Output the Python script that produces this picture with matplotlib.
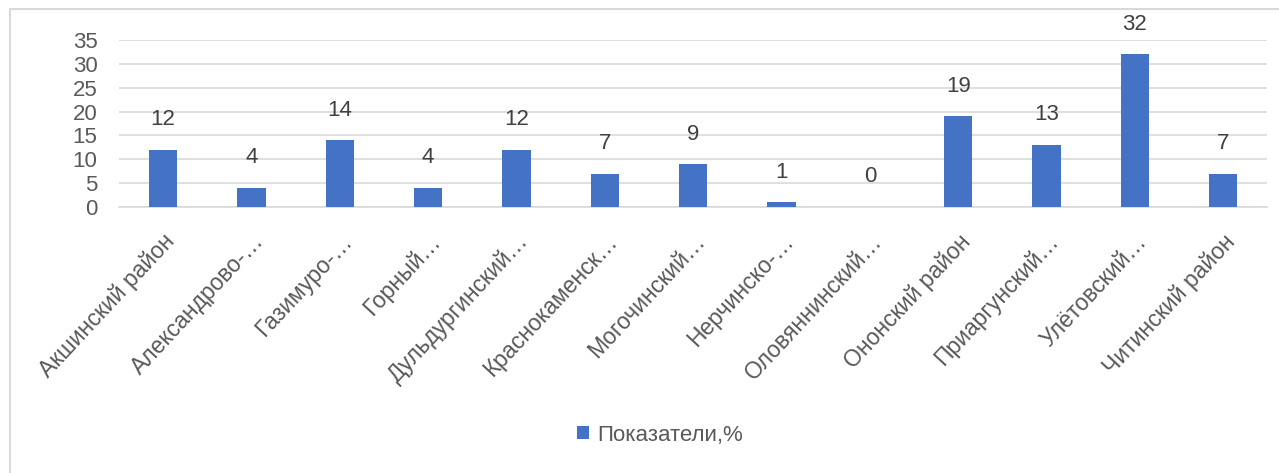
import matplotlib
matplotlib.use("Agg")
import matplotlib.pyplot as plt
from matplotlib.patches import Rectangle
from matplotlib.transforms import ScaledTranslation

categories = ["Акшинский район", "Александрово-…", "Газимуро-…", "Горный…",
              "Дульдургинский…", "Краснокаменск…", "Могочинский…", "Нерчинско-…",
              "Оловяннинский…", "Ононский район", "Приаргунский…", "Улётовский…",
              "Читинский район"]
values = [12, 4, 14, 4, 12, 7, 9, 1, 0, 19, 13, 32, 7]
series_name = "Показатели,%"
yticks = [0, 5, 10, 15, 20, 25, 30, 35]

plt.rcParams['font.family'] = ['Liberation Sans', 'DejaVu Sans']
bar_color = "#4472C4"
text_color = "#595959"

fig = plt.figure(figsize=(12.79, 4.73), dpi=100)
ax = fig.add_axes([0.093, 0.5624, 0.898, 0.353])

x = list(range(len(categories)))
bars = ax.bar(x, values, width=0.32, color=bar_color, label=series_name, zorder=3)
for xi, v in zip(x, values):
    ax.annotate(str(v), (xi, v), xytext=(0, 21.6), textcoords="offset points",
                ha="center", va="center", fontsize=16, color="#404040")

ax.set_xlim(-0.5, len(categories) - 0.5)
ax.set_ylim(0, 35)
ax.set_yticks(yticks)
ax.set_yticklabels([str(t) for t in yticks], fontsize=16, color=text_color)
ax.tick_params(axis="y", length=0, pad=15.5)
ax.set_xticks(x)
ax.set_xticklabels(categories, rotation=47, ha="right", va="top", rotation_mode="anchor",
                   fontsize=16.5, color=text_color)
ax.tick_params(axis="x", length=0, pad=0)
off = ScaledTranslation(0 / 100, -23 / 100, fig.dpi_scale_trans)
for lab in ax.get_xticklabels():
    lab.set_transform(lab.get_transform() + off)

ax.grid(axis="y", color="#d9d9d9", linewidth=1.2, zorder=0)
for s in ["top", "right", "left"]:
    ax.spines[s].set_visible(False)
ax.spines["bottom"].set_color("#d9d9d9")
ax.spines["bottom"].set_linewidth(1.2)

leg = fig.legend(handles=[bars], labels=[series_name], loc="center",
                 bbox_to_anchor=(0.516, 0.080), frameon=False, fontsize=16,
                 handlelength=0.55, handleheight=0.55, handletextpad=0.35)
for t in leg.get_texts():
    t.set_color(text_color)

fig.patches.append(Rectangle((0.008, -0.05), 1.05, 1.03, transform=fig.transFigure,
                             fill=False, edgecolor="#d9d9d9", linewidth=1.5))

fig.savefig("out.png", dpi=100, facecolor="white")
